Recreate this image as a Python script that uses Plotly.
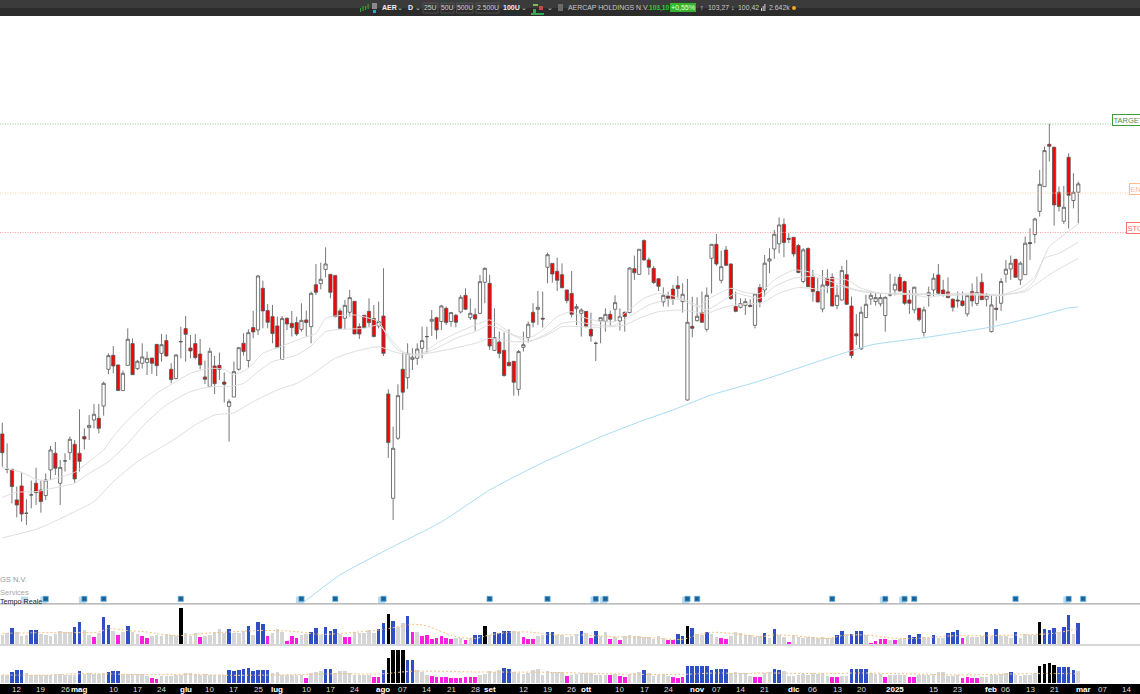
import plotly.graph_objects as go

W, H = 1140, 694

# ---------- daily OHLC (USD), one entry per session ----------
open_ = [86.47,84.11,84.11,82.07,83.0,81.18,82.4,83.18,82.73,82.36,84.07,85.18,83.18,84.67,85.22,85.78,85.18,86.29,86.89,87.4,
87.51,88.33,90.78,91.71,91.07,89.36,91.04,92.49,90.82,91.18,91.24,91.53,92.44,91.84,92.69,90.78,90.16,92.62,93.49,92.2,
92.49,91.8,90.27,89.62,91.0,91.04,89.93,88.31,88.93,90.78,92.51,91.36,93.56,93.4,96.18,94.69,94.29,93.67,91.44,94.18,
93.84,93.89,93.44,94.07,93.62,96.42,96.49,97.44,97.11,97.04,94.67,94.18,94.58,95.31,93.62,94.38,94.64,94.16,93.67,94.33,
89.13,82.18,86.18,90.78,90.22,91.44,91.51,92.18,92.96,93.98,94.22,93.96,94.84,93.96,94.38,94.6,95.71,94.22,94.42,94.51,
96.58,96.51,92.04,92.6,92.04,91.24,91.31,89.44,92.24,92.89,94.58,94.78,94.18,97.58,97.84,97.31,97.09,96.07,95.84,94.82,
94.51,94.64,93.44,92.51,94.0,93.98,94.44,94.78,94.0,94.58,94.56,97.49,97.11,99.36,98.07,97.51,96.82,95.27,95.67,96.13,
96.36,95.29,88.73,93.64,94.02,94.56,93.44,98.18,99.11,96.71,98.73,97.8,94.96,94.91,95.04,95.04,93.71,96.23,96.07,98.0,
98.8,99.14,100.45,99.51,99.58,99.03,96.63,98.83,96.96,95.96,94.8,96.85,96.91,95.03,95.4,97.09,95.0,93.14,92.14,94.23,
95.47,95.29,95.14,94.36,95.74,96.07,96.91,96.63,95.4,94.74,94.85,93.23,95.71,96.07,97.07,96.07,95.94,95.45,95.4,95.34,
94.47,95.96,95.16,96.58,95.45,93.29,94.85,95.18,97.12,97.47,98.11,96.74,97.09,99.23,99.76,101.31,102.96,105.78,105.58,102.58,
100.65,104.91,102.03,102.58]
high = [87.22,85.84,84.11,82.96,83.89,82.11,83.36,84.22,83.36,83.84,85.67,85.93,84.73,85.18,86.29,86.07,88.11,86.84,87.73,88.47,
88.47,89.96,91.84,92.33,91.07,90.69,93.51,92.84,91.4,92.51,91.96,91.53,92.44,93.13,93.11,91.18,91.8,93.62,94.33,93.07,
93.13,92.8,91.36,92.22,91.67,91.89,90.56,88.78,91.29,92.24,93.18,93.44,94.67,97.07,96.69,95.13,95.07,94.29,94.33,94.24,
94.67,94.29,95.18,94.69,95.96,97.8,97.89,98.91,97.11,97.04,94.84,95.4,96.07,95.33,93.84,94.4,95.51,95.07,95.29,97.51,
89.45,86.95,89.78,91.87,92.51,92.18,92.51,93.62,93.62,94.73,94.29,95.07,94.96,94.58,94.47,95.73,96.18,95.51,94.84,97.07,
97.58,97.07,94.84,93.29,93.24,93.44,91.31,92.07,93.29,93.96,95.18,96.0,95.96,98.56,97.84,98.22,97.84,96.07,97.33,95.13,
94.84,94.64,94.56,92.62,94.22,94.84,94.69,95.71,94.84,94.62,97.58,98.36,98.78,99.44,98.22,97.67,96.84,96.24,95.96,96.4,
97.0,96.51,96.8,95.62,95.58,95.96,96.24,99.11,99.8,98.69,99.0,97.84,95.96,95.51,95.51,95.44,95.84,96.47,98.4,98.85,
100.07,100.91,100.85,99.85,99.58,99.14,98.85,98.91,97.4,96.85,97.4,97.45,97.18,96.4,97.67,98.07,95.63,94.47,94.96,95.74,
95.96,95.89,95.78,95.63,97.14,96.96,97.14,96.69,96.07,96.29,94.85,94.96,96.29,97.18,97.8,96.74,96.91,95.51,95.96,95.96,
95.74,96.51,96.96,97.18,95.85,95.74,95.63,96.85,98.07,98.36,98.14,97.96,99.63,100.18,100.89,104.07,105.63,107.14,105.63,102.96,
103.0,105.18,103.85,103.29]
low = [84.29,83.84,81.84,80.91,80.62,80.4,81.51,81.73,81.22,82.07,83.4,83.73,81.73,83.96,84.73,83.22,83.96,85.44,86.07,86.84,
86.51,87.69,90.44,90.51,89.36,89.36,91.04,90.42,90.73,90.84,90.4,90.47,90.33,91.29,91.62,89.84,90.11,91.51,91.29,91.51,
91.44,90.78,89.8,89.62,89.13,90.07,88.56,85.96,88.93,90.69,91.69,90.89,92.84,93.07,93.51,93.51,92.51,92.18,91.44,93.4,
92.96,93.0,93.29,92.96,92.51,95.73,96.11,96.91,95.51,94.24,93.44,93.44,94.29,93.13,92.8,93.51,93.58,92.91,93.51,91.67,
84.87,80.73,86.07,88.07,89.47,90.73,91.07,91.51,91.89,93.0,92.78,93.4,93.73,93.62,93.58,94.51,94.73,94.07,93.36,94.47,
95.18,92.07,92.02,91.51,90.29,90.96,89.02,89.02,91.96,92.56,93.58,93.73,93.56,96.51,96.56,96.0,96.18,95.18,94.24,93.73,
92.96,93.58,92.62,91.33,92.51,93.29,93.62,93.96,93.36,93.29,94.51,96.73,97.07,98.02,97.07,96.47,96.0,94.96,94.96,95.07,
95.51,94.56,88.69,92.91,93.96,93.89,93.29,95.84,97.67,96.51,97.67,95.4,94.58,94.84,94.4,94.91,93.51,94.91,95.63,97.18,
98.14,98.51,98.25,99.18,98.29,97.18,96.51,96.25,95.29,95.22,94.58,95.85,94.96,94.78,95.36,95.07,91.51,92.4,92.07,94.18,
95.07,95.03,94.96,93.29,95.63,95.71,95.96,95.07,94.47,94.51,93.96,92.96,94.96,95.63,95.74,95.63,95.51,94.63,94.89,94.96,
94.29,94.96,95.0,95.4,94.96,93.23,94.03,94.67,96.56,96.74,96.89,96.4,97.07,98.07,99.18,100.96,102.96,104.63,100.36,101.29,
100.47,100.16,101.51,100.51]
close = [85.22,84.11,82.96,81.73,81.13,81.18,82.4,82.56,81.96,83.4,85.4,84.18,84.24,84.67,86.11,83.47,84.64,86.13,87.04,87.78,
86.84,89.84,91.69,91.0,89.36,90.51,92.78,90.42,91.31,91.6,91.51,91.18,91.02,92.42,91.67,90.09,91.73,92.62,93.11,92.0,
91.56,91.07,90.11,91.98,89.82,90.78,89.78,88.62,90.62,92.22,91.96,93.22,93.27,97.0,94.67,93.91,93.16,92.24,94.16,93.8,
93.56,93.13,94.04,93.89,95.84,95.91,96.78,97.8,95.91,94.29,93.51,95.04,95.56,93.13,93.13,93.56,93.89,92.96,93.96,91.84,
85.89,85.51,89.02,89.25,91.84,91.58,92.13,92.69,92.96,94.11,93.4,95.0,93.89,94.56,93.91,95.58,94.78,94.51,94.13,96.62,
97.51,92.33,92.89,91.84,90.36,91.02,89.91,91.96,92.42,93.78,93.91,94.91,94.13,98.42,97.13,96.71,96.22,95.36,94.44,94.96,
94.73,93.62,93.0,92.51,94.22,94.44,94.11,95.22,94.29,94.29,97.53,97.22,98.78,98.07,97.58,96.56,96.31,95.71,95.51,95.47,
96.16,95.78,93.91,93.51,94.31,93.91,95.71,99.11,97.8,97.62,97.71,95.49,94.64,95.16,95.29,94.98,95.8,95.27,97.85,98.14,
99.78,100.4,99.23,99.45,98.47,97.23,98.74,96.29,95.96,95.27,96.4,96.36,95.0,95.71,97.36,95.11,91.69,93.0,94.58,95.11,
95.71,95.56,95.56,95.58,95.74,96.45,96.0,95.18,95.18,96.25,94.09,94.74,95.89,96.85,95.85,95.78,95.56,94.91,95.34,95.03,
95.69,95.34,95.89,95.42,95.69,95.07,94.78,96.63,97.45,97.85,96.91,97.85,99.18,99.16,100.8,103.11,105.36,105.65,101.74,101.63,
101.58,102.38,102.58,103.14]
sessions = list(range(len(close)))

# ---------- moving averages: sessions ----------
ma1_s = [0,4,7,9,12,15,18,21,23,26,29,32,36,39,43,46,48,51,54,58,62,65,67,69,73,78,80,82,84,87,90,94,98,101,103,106,109,112,115,118,120,124,127,129,133,136,140,144,147,151,154,157,160,164,167,171,175,178,182,187,192,196,201,207,211,214,217,220,223]
ma1_p = [84.22,83.91,83.44,83.36,83.58,83.91,84.62,85.4,86.29,87.4,88.29,89.18,89.96,90.51,90.84,90.78,90.4,90.84,91.84,92.33,92.84,93.18,94.18,94.33,94.4,93.96,92.84,92.07,91.8,91.84,92.51,93.18,93.73,94.07,93.73,93.07,92.84,93.4,94.29,94.62,94.29,93.96,93.96,94.51,95.51,95.84,95.58,94.96,95.58,96.18,95.89,95.84,96.74,97.4,97.29,96.85,96.74,96.18,95.85,95.85,95.58,95.8,95.85,95.74,96.18,96.96,98.96,99.74,100.47]
ma2_s = [0,3,7,12,15,18,22,26,30,34,39,43,47,50,53,56,61,64,67,70,75,78,81,83,86,90,94,98,101,105,109,113,116,119,123,127,130,134,138,142,146,149,152,157,160,164,168,173,177,182,192,196,201,207,212,214,216,219,223]
ma2_p = [82.24,82.58,82.62,82.96,83.18,83.84,84.62,85.84,87.29,88.4,89.29,89.62,89.62,89.84,90.62,91.29,91.73,92.33,93.29,93.44,93.51,93.73,92.62,91.96,91.69,92.18,92.84,93.29,93.73,93.18,92.62,93.18,93.84,93.96,93.73,93.73,94.29,95.07,95.44,95.36,94.73,95.29,95.84,95.51,96.29,96.85,96.96,96.51,96.07,95.85,95.8,95.69,95.78,95.69,96.07,96.74,98.18,98.51,99.25]
ma3_s = [0,7,10,15,19,23,28,32,36,40,44,48,52,57,61,64,69,73,78,81,84,87,92,98,101,106,109,113,116,120,124,129,132,136,141,146,150,155,157,161,165,169,174,178,185,192,198,207,212,215,218,223]
ma3_p = [79.53,80.11,80.51,81.29,81.96,83.29,84.62,85.4,86.18,87.07,87.73,87.89,88.62,89.4,89.84,90.4,91.51,91.96,92.29,91.96,91.73,91.78,92.07,92.51,92.84,92.62,92.62,93.07,93.62,93.62,93.58,93.73,94.18,94.62,94.73,94.51,94.96,95.18,95.13,95.85,96.23,96.14,96.29,95.96,95.78,95.78,95.74,95.74,95.96,96.63,97.29,98.18]
ma200_s = [62,70,80,91,101,111,124,132,139,147,157,170,180,192,205,214,221,223]
ma200_p = [75.13,77.07,78.8,80.6,82.73,84.4,86.27,87.27,88.07,89.07,90.0,91.4,92.4,92.93,93.6,94.27,94.87,94.93]

# ---------- price levels ----------
level_names = ["TARGET", "ENTRY", "STOP"]
level_prices = [107.13, 102.53, 99.9]
level_start = [230.0, 233.5, 232.9]

# ---------- event flags ----------
event_sessions = [9,17,21,37,62,69,79,101,113,123,125,142,144,172,183,187,189,210,221,224]
event_shadow = [5,9,17,62,79,123,125,142,183,187,221]
event_level = 75.47

# ---------- volume panels (relative volume), class: n normal, h high, l low, x extreme ----------
vol1 = [27,32,49,35,25,27,43,43,29,27,24,29,40,36,35,51,66,42,27,21,33,82,58,40,27,36,55,36,30,25,18,24,27,23,29,26,23,108,32,25,
34,21,25,26,35,44,33,46,32,33,38,54,27,67,61,23,33,44,37,8,24,17,27,30,35,49,27,52,39,44,30,21,21,35,33,32,41,32,44,62,
90,69,50,62,85,36,36,24,27,14,18,23,17,14,17,17,12,17,26,26,53,28,36,34,40,40,38,36,21,15,14,23,28,37,37,26,27,22,25,30,
40,33,19,40,23,36,15,20,13,25,28,23,23,22,22,15,24,17,13,12,31,25,53,49,30,27,37,30,21,17,15,24,36,32,26,27,20,25,34,17,
46,26,21,7,26,22,18,20,21,19,21,18,17,26,38,29,30,38,38,26,3,9,14,14,13,12,14,18,27,20,30,22,17,27,18,18,33,35,41,17,
25,22,22,23,36,25,46,25,25,18,37,19,29,27,27,65,44,42,48,35,50,87,30,64]
vol1_class = ("nnhnnnhhnn" "nnnnnhhnnl" "nhhnlnhnnl" "lnnnnnnxnn" "nlnnnnnhnn" "nhnhhlnnnl" "llnnhhnhhh" "nllnnnnnhh"
              "xhnnhlnlll" "llllnnlnhh" "xnhhhhnnll" "lnnhhnnnnn" "hnlhnnlnln" "nnnnnnnnll" "hhxhnnhnnl" "lnnnnnnnhn"
              "hnnlnnnnnn" "nnnhhnhhhn" "llllnlnnhh" "hnnhnnhhhl" "nnnnhnhnnn" "hnnnnxhhhn" "hhnh")
vol2 = [24,25,34,40,38,30,23,23,24,24,24,26,26,25,25,25,37,28,30,28,28,30,34,35,35,28,26,26,26,26,20,15,13,20,22,22,24,25,29,29,
27,24,28,25,23,23,24,38,36,40,43,45,36,39,38,38,30,33,23,23,23,23,23,15,29,34,35,41,41,31,35,35,31,25,23,23,23,18,18,38,
76,99,99,99,69,69,40,34,25,20,19,19,19,15,15,14,18,18,18,24,27,35,34,38,45,42,32,29,28,30,38,43,25,37,34,33,34,22,25,28,
30,30,30,24,24,24,23,27,21,17,27,31,33,39,30,20,23,27,21,18,16,17,52,52,52,50,50,39,43,43,43,30,34,31,31,22,17,19,30,34,
41,40,35,22,22,25,28,25,29,27,29,22,19,19,22,22,41,41,41,41,29,27,27,18,24,24,24,24,18,18,24,25,25,27,32,32,20,22,23,16,
18,15,16,19,19,25,25,26,30,34,24,22,23,25,31,52,57,60,55,47,47,49,40,35]
vol2_class = ("nnhhhnnnnn" "nnnnnnhnnn" "nnhhhnnnnn" "nllnnnnnnn" "nnnnnnnhhh" "hhhhhhnnnn" "nnnlnnnhhn" "nnnnnnnllh"
              "xxxxhhnnnl" "llllllllln" "nnnnhhnnnn" "nnnnnnnlnn" "nnnnnnlnll" "nnnhnnnnnl" "llhhhhhhhh" "hnnnnnllnn"
              "hhnnnnnnnn" "nnllnnhhhh" "nnnlnnnnll" "nnnnnnnnnl" "lllnnnnnnh" "nnnnnxxxxh" "hhhn")
vol_colors = {"n": "#d5d5d5", "h": "#2f4fc4", "l": "#ff1fe3", "x": "#000000"}

avg1_s = [0,8,15,20,22,26,30,33,37,42,47,52,58,61,66,72,78,83,85,88,91,94,98,101,106,110,113,120,127,134,141,144,147,154,157,160,164,171,174,179,185,190,196,201,205,210,214,218,223]
avg1_v = [32,34,34,36,46,40,36,29,25,32,36,40,40,37,29,34,42,54,59,54,37,22,17,27,36,35,29,27,22,19,14,27,35,27,22,27,25,17,25,27,17,17,24,25,25,27,29,32,47]
avg2_s = [0,10,16,30,40,47,60,70,78,85,99,113,127,141,148,154,157,164,171,178,185,192,199,206,213,223]
avg2_v = [24,24,28,25,26,23,25,28,27,35,33,32,27,26,30,28,30,29,28,30,28,26,24,26,28,28]

# ---------- bottom axis ----------
tick_sessions = [3,8,13,16,23,28,33,38,43,48,53,57,63,68,73,79,83,88,93,98,101,108,113,118,121,128,133,138,144,148,153,158,164,168,173,178,185,193,198,205,208,213,218,224,228,233]
tick_labels = ["12","19","26","mag","10","17","24","glu","10","17","25","lug","10","17","24","ago","07","14","21","28","set","12","19","26","ott","10","17","24","nov","07","14","21","dic","06","13","20","2025","15","23","feb","06","13","21","mar","07","14"]
month_labels = {"mag","glu","lug","ago","set","ott","nov","dic","2025","feb","mar"}

FONT = "Liberation Sans"
fig = go.Figure()

def py(v):
    return 1 - v / H
def pxx(v):
    return v / W

# moving averages
for s_, p_, c_ in [(ma1_s, ma1_p, "#dedede"), (ma2_s, ma2_p, "#dedede"), (ma3_s, ma3_p, "#dedede"), (ma200_s, ma200_p, "#a9dcf5")]:
    fig.add_trace(go.Scatter(x=s_, y=p_, mode="lines", line=dict(color=c_, width=1, shape="spline", smoothing=0.5), hoverinfo="skip", showlegend=False))

# level lines
for p_, c_ in zip(level_prices, ["#8fc78f", "#ffc9a8", "#ff9a9a"]):
    fig.add_trace(go.Scatter(x=[-1, 236], y=[p_, p_], mode="lines", line=dict(color=c_, width=1, dash="1px 1.5px"), hoverinfo="skip", showlegend=False))

# candles
fig.add_trace(go.Candlestick(x=sessions, open=open_, high=high, low=low, close=close,
    increasing=dict(line=dict(color="#555555", width=0.8), fillcolor="#ffffff"),
    decreasing=dict(line=dict(color="#555555", width=0.8), fillcolor="#ff0000"),
    whiskerwidth=0, hoverinfo="skip", showlegend=False))

# event flags
fig.add_trace(go.Scatter(x=[s - 0.4 for s in event_shadow], y=[event_level - 0.08] * len(event_shadow), mode="markers",
    marker=dict(symbol="square", size=7, color="#bcdcf2", line=dict(width=0)), hoverinfo="skip", showlegend=False))
fig.add_trace(go.Scatter(x=event_sessions, y=[event_level] * len(event_sessions), mode="markers+text",
    marker=dict(symbol="square", size=5.5, color="#1f70a8", line=dict(color="#8ec6e8", width=0.6)),
    text=["D"] * len(event_sessions), textfont=dict(size=4, color="#0d3c66", family=FONT), textposition="middle center",
    hoverinfo="skip", showlegend=False))

# volumes
fig.add_trace(go.Bar(x=sessions, y=vol1, yaxis="y2", marker=dict(color=[vol_colors[c] for c in vol1_class], line=dict(width=0)), width=0.74, hoverinfo="skip", showlegend=False))
fig.add_trace(go.Scatter(x=avg1_s, y=avg1_v, yaxis="y2", mode="lines", line=dict(color="#f7c27e", width=1, dash="2px 2px", shape="spline"), hoverinfo="skip", showlegend=False))
fig.add_trace(go.Bar(x=sessions, y=vol2, yaxis="y3", marker=dict(color=[vol_colors[c] for c in vol2_class], line=dict(width=0)), width=0.74, hoverinfo="skip", showlegend=False))
fig.add_trace(go.Scatter(x=avg2_s, y=avg2_v, yaxis="y3", mode="lines", line=dict(color="#f7c27e", width=1, dash="2px 2px", shape="spline"), hoverinfo="skip", showlegend=False))

shapes, ann = [], []
def rect(x0, y0, x1, y1, fill, line=None, lw=1):
    shapes.append(dict(type="rect", xref="paper", yref="paper", x0=pxx(x0), x1=pxx(x1), y0=py(y1), y1=py(y0),
                       fillcolor=fill, line=dict(color=line or fill, width=lw if line else 0), layer="above"))
def label(x, y, t, size=7.5, color="#d8d8d8", anchor="left", weight=None):
    txt = f"<b>{t}</b>" if weight else t
    ann.append(dict(xref="paper", yref="paper", x=pxx(x), y=py(y), text=txt, showarrow=False, xanchor=anchor, yanchor="middle",
                    font=dict(family=FONT, size=size, color=color), borderpad=0, borderwidth=0))

# toolbar
rect(0, 0, W, 8, "#3b3b3b")
rect(0, 8, W, 16, "#2c2c2c")
for x_, y0_, y1_ in [(360, 8, 12), (362.5, 6, 11), (365, 6, 10), (367.5, 4, 9)]:
    rect(x_, y0_, x_ + 1.2, y1_, "#3f9b3a")
rect(372, 3, 377, 9, "#8a8a8a")
rect(373, 10, 376, 13, "#29a3d8")
label(382, 8, "AER", 7, "#eeeeee", weight=True)
label(397.5, 7.5, "⌄", 7, "#cfcfcf")
label(408, 8, "D", 7, "#eeeeee", weight=True)
label(415, 7.5, "⌄", 7, "#cfcfcf")
for x0_, x1_, t_ in [(423, 438, "25U"), (441, 454, "50U"), (456.5, 473, "500U"), (476, 499, "2.500U")]:
    rect(x0_, 3, x1_, 13, "rgba(0,0,0,0)", "#5a5a5a", 0.7)
    label((x0_ + x1_) / 2, 8, t_, 6.8, "#cfcfcf", "center")
label(503, 8, "100U", 7, "#eeeeee", weight=True)
label(521, 7.5, "⌄", 7, "#cfcfcf")
rect(531, 13, 544, 15, "#34a853")
rect(533, 9, 536, 13, "#34a853")
rect(539, 6, 543, 10, "#c24a4a")
rect(533, 4, 538, 6, "#7fbf50")
label(547, 7.5, "⌄", 7, "#cfcfcf")
rect(558, 4, 563, 11, "#6a6a6a")
label(568, 8, "AERCAP HOLDINGS N.V.", 6.9, "#c8c8c8")
label(649, 8, "103,10", 6.6, "#2ecc40", weight=True)
rect(670, 3, 696, 12, "#35b52f")
label(683, 7.8, "+0,55%", 7, "#e8ffe8", "center")
label(699.5, 8, "↑", 7, "#e0e0e0")
label(708, 8, "103,27", 6.9, "#c8c8c8")
label(731, 8, "↓", 7, "#e0e0e0")
label(738, 8, "100,42", 6.9, "#c8c8c8")
rect(761, 8, 762, 11, "#d0d0d0")
rect(762.7, 6, 763.7, 11, "#d0d0d0")
rect(764.4, 4, 765.4, 11, "#d0d0d0")
label(769, 8, "2.642k", 6.9, "#c8c8c8")
shapes.append(dict(type="circle", xref="paper", yref="paper", x0=pxx(792), x1=pxx(796), y0=py(10), y1=py(6), fillcolor="#f0ad1e", line=dict(width=0), layer="above"))

# level tags (run off the right edge)
for n_, p_, st_, c_ in zip(level_names, level_prices, level_start, ["#3c9a3c", "#ffbb94", "#ff6d6d"]):
    ann.append(dict(x=st_, y=p_ + 0.3, xref="x", yref="y", text=n_, showarrow=False, xanchor="left", yanchor="middle",
                    font=dict(family=FONT, size=7.5, color="#4f8f4f" if n_ == "TARGET" else c_),
                    bgcolor="#ffffff", bordercolor=c_, borderwidth=1, borderpad=0.5))

# overlaid title fragments
label(0, 579, "GS N.V.", 7.5, "#9a9a9a")
label(0, 592, "Services", 7.5, "#a8a8a8")
label(0, 601.5, "Tempo Reale", 7.2, "#222222")

# panel separators and bottom bar
rect(0, 603.3, W, 604.5, "#a9a9a9")
rect(0, 644.4, W, 645.6, "#b0b0b0")
rect(0, 684, W, H, "#000000")
for s_, t_ in zip(tick_sessions, tick_labels):
    bold = t_ in month_labels
    ann.append(dict(x=s_, xref="x", y=py(689), yref="paper", text=f"<b>{t_}</b>" if bold else t_, showarrow=False, yanchor="middle",
                    font=dict(family=FONT, size=8, color="#ffffff" if bold else "#dddddd")))

STEP, X0 = 4.825, 2.3
fig.update_layout(
    width=W, height=H, margin=dict(l=0, r=0, t=0, b=0), paper_bgcolor="#ffffff", plot_bgcolor="#ffffff",
    showlegend=False, bargap=0, boxgap=0.33, boxgroupgap=0, shapes=shapes, annotations=ann, hovermode=False,
    xaxis=dict(range=[-X0 / STEP, (W - X0) / STEP], visible=False, rangeslider=dict(visible=False), fixedrange=True),
    yaxis=dict(domain=[py(604), 1], range=[75.13, 115.4], visible=False, fixedrange=True),
    yaxis2=dict(domain=[py(644), py(605)], range=[0, 117], visible=False, fixedrange=True),
    yaxis3=dict(domain=[py(683), py(646)], range=[0, 111], visible=False, fixedrange=True),
)
fig.write_html("out.html", config={"displayModeBar": False},
               post_script="document.body.style.margin='0';document.body.style.overflow='hidden';")
